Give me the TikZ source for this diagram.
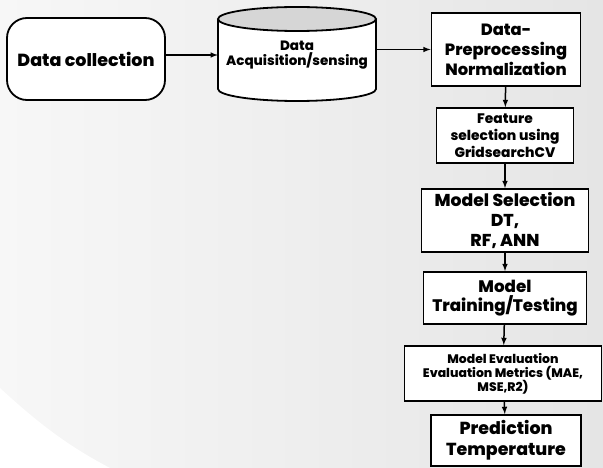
\documentclass[tikz,border=0pt]{standalone}
\usepackage{fontspec}
\setmainfont{Poppins}[BoldFont={Poppins ExtraBold}]
\usepackage{tikz}
\usetikzlibrary{shapes}
\usetikzlibrary{calc}

\begin{document}
\begin{tikzpicture}[x=1pt, y=-1pt,
 every text node part/.style={align=center},
block/.style={rectangle, draw=black, fill=white, inner sep=0pt, line width=1.8pt},
start/.style={block, rounded corners=20pt},
store/.style={rectangle, inner sep=0pt},
rim/.style={draw=black, line width=1.8pt},
arrow/.style={-latex, line width=1.5pt}]

    \definecolor{bgl}{RGB}{247,247,247}
    \definecolor{bgr}{RGB}{229,229,229}
    \definecolor{lid}{RGB}{214,214,214}

	\shade[left color=bgl, right color=bgr] (0,0) rectangle (603,468);
	\fill[white] (0,388) .. controls (40,425) and (70,447) .. (110,468) -- (0,468) -- cycle;
	\useasboundingbox (0,0) rectangle (603,468);

	% storage drum
	\filldraw[rim, fill=white] (218,19) -- (218,89) arc[start angle=180, end angle=360, x radius=79pt, y radius=12pt] -- (376,19);
	\filldraw[rim, fill=lid] (297,19) ellipse [x radius=79pt, y radius=12pt];

	\node[start, font=\bfseries\fontsize{17.5}{22}\selectfont, minimum width=158pt, minimum height=82pt] (collect) at (86,59) {Data collection};
	\node[store, font=\bfseries\fontsize{13.5}{15}\selectfont, minimum width=158pt, minimum height=70pt] (acquire) at (297,55) {Data\\Acquisition/sensing};
	\node[block, font=\bfseries\fontsize{16.3}{20}\selectfont, minimum width=149pt, minimum height=73pt] (prep) at (506,49.5) {Data-\\Preprocessing\\Normalization};
	\node[block, font=\bfseries\fontsize{13.8}{17}\selectfont, minimum width=137pt, minimum height=55pt] (feat) at (505,135.5) {Feature\\selection using\\GridsearchCV};
	\node[block, font=\bfseries\fontsize{17.2}{20}\selectfont, minimum width=167pt, minimum height=63pt] (msel) at (505,220.5) {Model Selection\\DT,\\RF, ANN};
	\node[block, font=\bfseries\fontsize{16.7}{18.5}\selectfont, minimum width=163pt, minimum height=52pt] (train) at (505,298) {Model\\Training/Testing};
	\node[block, font=\bfseries\fontsize{12.4}{14}\selectfont, minimum width=197pt, minimum height=55pt] (evalm) at (503,373.5) {Model Evaluation\\Evaluation Metrics (MAE,\\MSE,R2)};
	\node[block, font=\bfseries\fontsize{17.4}{21}\selectfont, minimum width=150pt, minimum height=51pt] (pred) at (506,440.5) {Prediction\\Temperature};

	\draw (collect.east |- acquire) edge [arrow] (acquire);
	\draw (acquire.east |- prep) edge [arrow] (prep);
	\draw (prep) edge [arrow] (feat);
	\draw (feat) edge [arrow] (msel);
	\draw (msel) edge [arrow] (train);
	\draw (train) edge [arrow] (evalm);
	\draw (evalm) edge [arrow] (pred);
\end{tikzpicture}
\end{document}
